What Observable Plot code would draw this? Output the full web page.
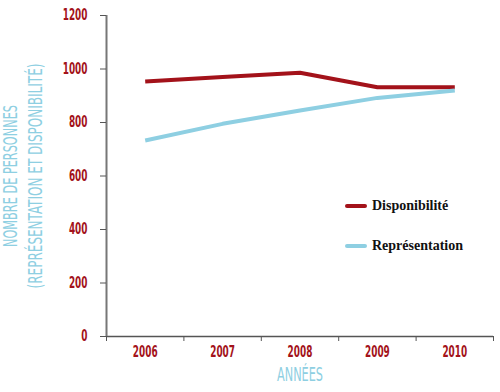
<!DOCTYPE html>
<html><head><meta charset="utf-8">
<script src="https://cdn.jsdelivr.net/npm/d3@7"></script>
<script src="https://cdn.jsdelivr.net/npm/@observablehq/plot@0.6"></script>
<style>
body{margin:0;background:#fff;}
#wrap{position:relative;width:500px;height:392px;}
.legend{position:absolute;left:345px;font-family:"Liberation Serif",serif;font-weight:bold;font-size:14px;color:#111;}
.legend .item{position:absolute;left:0;white-space:nowrap;display:flex;align-items:center;}
.legend .sw{width:22px;height:4px;border-radius:2px;margin-right:5px;}
</style>
</head><body><div id="wrap"></div>
<script>
const years = [2006, 2007, 2008, 2009, 2010];
const disponibilite = [953, 970, 986, 932, 932];
const representation = [733, 795, 845, 892, 920];
const seriesNames = ["Disponibilité", "Représentation"];
const colors = ["#a3121a", "#8ecfe2"];
const yTicks = [0, 200, 400, 600, 800, 1000, 1200];
const yTitle1 = "NOMBRE DE PERSONNES";
const yTitle2 = "(REPRÉSENTATION ET DISPONIBILITÉ)";
const xTitle = "ANNÉES";

const rows = [];
years.forEach((y, i) => {
  rows.push({year: y, value: disponibilite[i], series: seriesNames[0]});
  rows.push({year: y, value: representation[i], series: seriesNames[1]});
});
const boundaries = years.map(y => y - 0.5).concat([years[years.length - 1] + 0.5]);
const font = '"DejaVu Sans Condensed","DejaVu Sans",sans-serif';
const red = "#a3121a", blue = "#8ecfe2", axisGray = "#555";

const chart = Plot.plot({
  width: 500, height: 392,
  marginLeft: 106, marginRight: 7, marginTop: 15, marginBottom: 56,
  style: {fontFamily: font, fontSize: "14px", background: "#fff"},
  x: {type: "linear", domain: [boundaries[0], boundaries[boundaries.length - 1]]},
  y: {domain: [0, 1200]},
  color: {domain: seriesNames, range: colors},
  marks: [
    Plot.ruleY([0], {stroke: axisGray, strokeWidth: 1.5}),
    Plot.ruleX([boundaries[0]], {stroke: "#777", strokeWidth: 2}),
    Plot.axisY(yTicks, {tickSize: 6, tickPadding: 13, fontSize: 15, fontWeight: "bold", stroke: axisGray, fill: red, tickFormat: d => String(d), label: null}),
    Plot.axisX(boundaries, {tickSize: 5, stroke: axisGray, tickFormat: () => "", label: null}),
    Plot.axisX(years, {tickSize: 0, tickPadding: 10, fontSize: 15, fontWeight: "bold", fill: red, tickFormat: d => String(d), label: null}),
    Plot.line(rows, {x: "year", y: "value", z: "series", stroke: "series", strokeWidth: 4, strokeLinejoin: "miter", strokeLinecap: "butt"}),
    Plot.text([yTitle1], {text: d => d, frameAnchor: "left", textAnchor: "middle", dx: -96, rotate: -90, fill: blue, fontSize: 19}),
    Plot.text([yTitle2], {text: d => d, frameAnchor: "left", textAnchor: "middle", dx: -71, rotate: -90, fill: blue, fontSize: 19}),
    Plot.text([xTitle], {text: d => d, frameAnchor: "bottom", dy: 44, fill: blue, fontSize: 19})
  ]
});
document.getElementById("wrap").appendChild(chart);

const fits = new Map([[yTitle1, 142], [yTitle2, 225], [xTitle, 46]]);
d3.select(chart).selectAll("text").each(function () {
  const t = this.textContent;
  let len = null;
  if (fits.has(t)) len = fits.get(t);
  else if (/^\d+$/.test(t)) len = t.length * 6.2;
  if (len) d3.select(this).attr("textLength", len).attr("lengthAdjust", "spacingAndGlyphs");
});

const legend = document.createElement("div");
legend.className = "legend";
legend.style.top = "0px";
const tops = [198, 238];
seriesNames.forEach((name, i) => {
  const item = document.createElement("div");
  item.className = "item";
  item.style.top = tops[i] + "px";
  item.innerHTML = `<span class="sw" style="background:${colors[i]}"></span><span>${name}</span>`;
  legend.appendChild(item);
});
document.getElementById("wrap").appendChild(legend);
</script>
</body></html>
